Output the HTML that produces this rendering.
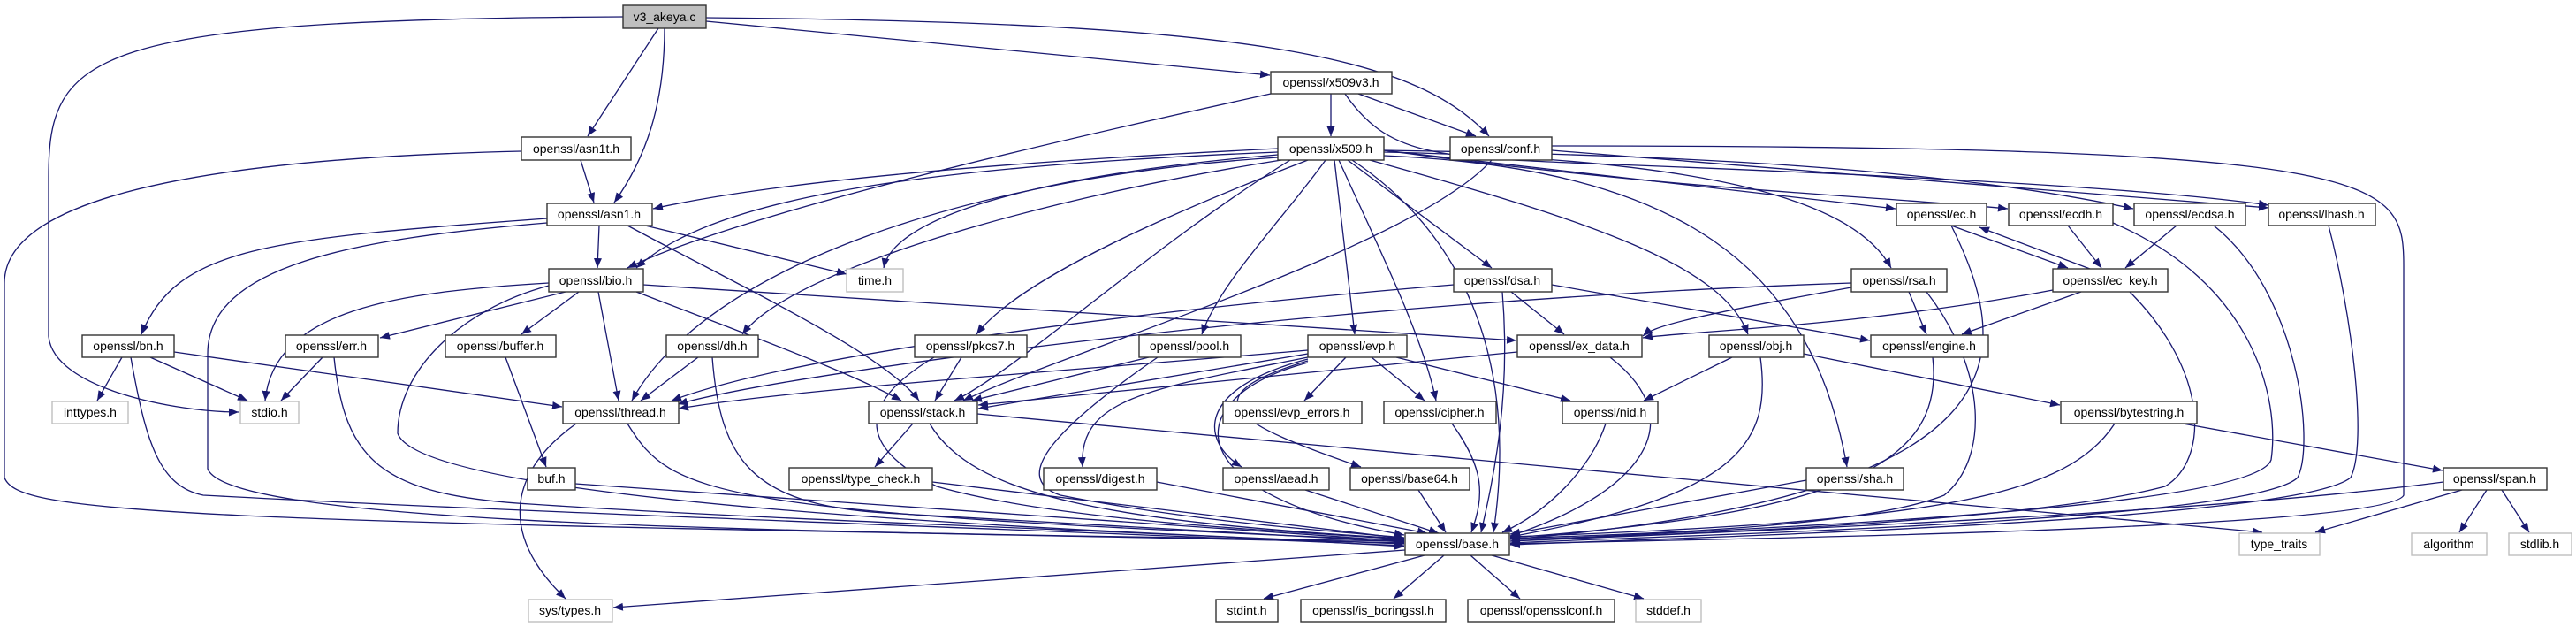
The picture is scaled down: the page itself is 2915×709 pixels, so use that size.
<!DOCTYPE html>
<html><head><meta charset="utf-8"><style>
html,body{margin:0;padding:0;background:#fff;}
svg{display:block;}
text{font-family:"Liberation Sans","DejaVu Sans",sans-serif;font-size:14px;fill:#000;}
.e{fill:none;stroke:#191970;stroke-width:1.3;marker-end:url(#a);}
.n{fill:#fff;stroke:#333;stroke-width:1.4;}
.g{fill:#fff;stroke:#bfbfbf;stroke-width:1.4;}
</style></head><body>
<svg width="2915" height="709" viewBox="0 0 2915 709" xmlns="http://www.w3.org/2000/svg">
<defs><marker id="a" markerUnits="userSpaceOnUse" markerWidth="12" markerHeight="9" refX="11" refY="4.5" orient="auto"><path d="M0,0 L11,4.5 L0,9 z" fill="#191970"/></marker></defs>
<g>
<path class="e" d="M705 19 C100 22,55 60,55 200 L55 380 C60 440,200 466,270 466"/>
<path class="e" d="M745 32 L665 154"/>
<path class="e" d="M752 32 C752 120,730 180,695 229"/>
<path class="e" d="M799 24 L1437 85"/>
<path class="e" d="M799 20 C1400 25,1600 60,1685 154"/>
<path class="e" d="M1438 106 C1100 180,820 250,710 303"/>
<path class="e" d="M1506 106 L1506 154"/>
<path class="e" d="M1537 106 L1670 154"/>
<path class="e" d="M1522 106 C1570 175,1620 178,1800 185 C2200 200,2450 215,2567 232"/>
<path class="e" d="M657 181 L672 229"/>
<path class="e" d="M590 171 C200 180,5 230,5 320 L5 540 C20 580,170 590,1589 612"/>
<path class="e" d="M678 255 L676 303"/>
<path class="e" d="M619 247 C300 270,200 280,160 378"/>
<path class="e" d="M619 252 C400 270,235 300,235 400 L235 530 C260 600,1000 600,1589 614"/>
<path class="e" d="M730 255 L958 310"/>
<path class="e" d="M710 255 C850 330,1000 400,1040 453"/>
<path class="e" d="M1688 181 C1600 280,1200 400,1090 453"/>
<path class="e" d="M1756 170 L2567 235"/>
<path class="e" d="M1756 165 C2700 165,2720 200,2720 300 L2720 560 C2700 600,1900 610,1709 615"/>
<path class="e" d="M1446 168 C1200 180,900 200,739 236"/>
<path class="e" d="M1446 172 C1000 190,800 230,720 303"/>
<path class="e" d="M1446 175 C1150 200,1010 250,1000 303"/>
<path class="e" d="M1446 178 C1100 200,800 300,715 453"/>
<path class="e" d="M1450 181 C1200 220,900 300,840 378"/>
<path class="e" d="M1480 181 C1300 250,1150 320,1105 378"/>
<path class="e" d="M1500 181 C1450 250,1380 320,1360 378"/>
<path class="e" d="M1460 181 C1300 280,1150 420,1080 453"/>
<path class="e" d="M1510 181 L1533 378"/>
<path class="e" d="M1515 181 C1560 280,1610 380,1625 453"/>
<path class="e" d="M1525 181 L1688 303"/>
<path class="e" d="M1530 181 C1650 260,1720 400,1690 602"/>
<path class="e" d="M1550 181 C1800 250,1950 300,1978 378"/>
<path class="e" d="M1566 176 C1900 190,2050 300,2090 528"/>
<path class="e" d="M1566 172 C1950 180,2100 230,2140 303"/>
<path class="e" d="M1566 170 L2145 236"/>
<path class="e" d="M1566 170 C1900 215,2100 220,2272 236"/>
<path class="e" d="M1566 170 C1900 175,2200 190,2414 236"/>
<path class="e" d="M2208 255 L2340 303"/>
<path class="e" d="M2365 304 L2240 257"/>
<path class="e" d="M2208 255 C2280 400,2300 560,1709 610"/>
<path class="e" d="M2340 255 L2378 303"/>
<path class="e" d="M2391 252 C2550 320,2580 450,2570 520 C2550 580,1900 600,1709 612"/>
<path class="e" d="M2463 255 L2405 303"/>
<path class="e" d="M2505 255 C2600 330,2620 500,2600 540 C2550 590,1900 605,1709 614"/>
<path class="e" d="M2635 255 C2660 350,2680 500,2660 540 C2600 590,1900 608,1709 616"/>
<path class="e" d="M640 330 L430 382"/>
<path class="e" d="M655 330 L590 378"/>
<path class="e" d="M677 330 L700 453"/>
<path class="e" d="M621 320 C450 330,310 350,300 453"/>
<path class="e" d="M720 330 C850 380,960 420,1020 453"/>
<path class="e" d="M728 322 L1716 385"/>
<path class="e" d="M621 323 C520 350,450 420,450 490 C470 550,900 590,1589 615"/>
<path class="e" d="M138 404 L110 453"/>
<path class="e" d="M170 404 L280 453"/>
<path class="e" d="M197 398 L636 460"/>
<path class="e" d="M148 404 C165 500,180 550,230 560 C600 580,1200 600,1589 617"/>
<path class="e" d="M365 404 L318 453"/>
<path class="e" d="M378 404 C390 520,430 560,600 570 C900 590,1300 600,1589 618"/>
<path class="e" d="M572 404 L618 528"/>
<path class="e" d="M651 547 L1589 612"/>
<path class="e" d="M790 404 L725 453"/>
<path class="e" d="M806 404 C815 520,850 570,1000 580 L1589 613"/>
<path class="e" d="M1710 330 L1770 378"/>
<path class="e" d="M1756 322 L2116 385"/>
<path class="e" d="M1645 322 C1300 350,900 400,760 453"/>
<path class="e" d="M1700 330 C1710 450,1690 540,1676 602"/>
<path class="e" d="M2095 325 C1900 360,1870 370,1859 380"/>
<path class="e" d="M2160 330 L2180 378"/>
<path class="e" d="M2095 320 C1500 340,900 420,767 457"/>
<path class="e" d="M2180 330 C2250 420,2250 520,2200 560 C2100 600,1800 605,1709 609"/>
<path class="e" d="M2323 328 C2100 370,1900 375,1859 382"/>
<path class="e" d="M2355 330 L2220 378"/>
<path class="e" d="M2410 330 C2500 420,2500 520,2450 550 C2300 590,1900 605,1709 610"/>
<path class="e" d="M1088 404 L1058 453"/>
<path class="e" d="M1057 404 C980 450,960 500,1060 550 C1200 590,1450 600,1589 610"/>
<path class="e" d="M1300 404 L1100 453"/>
<path class="e" d="M1310 404 C1200 480,1140 540,1200 560 C1350 590,1500 600,1589 608"/>
<path class="e" d="M1480 396 C1200 420,900 440,768 462"/>
<path class="e" d="M1480 400 L1107 462"/>
<path class="e" d="M1523 404 L1476 453"/>
<path class="e" d="M1552 404 L1612 453"/>
<path class="e" d="M1580 404 L1777 453"/>
<path class="e" d="M1480 404 C1300 440,1220 450,1225 528"/>
<path class="e" d="M1480 406 C1350 440,1360 500,1405 528"/>
<path class="e" d="M1480 408 C1340 450,1400 480,1540 528"/>
<path class="e" d="M1480 410 C1330 450,1330 560,1589 605"/>
<path class="e" d="M1717 398 L1107 458"/>
<path class="e" d="M1822 404 C1920 480,1850 560,1709 606"/>
<path class="e" d="M1960 404 L1860 453"/>
<path class="e" d="M2041 400 L2331 458"/>
<path class="e" d="M1992 404 C2005 500,1970 560,1709 607"/>
<path class="e" d="M2187 404 C2200 520,2100 580,1709 608"/>
<path class="e" d="M652 479 C580 530,560 600,640 677"/>
<path class="e" d="M710 479 C760 560,800 580,1589 611"/>
<path class="e" d="M1033 479 L990 528"/>
<path class="e" d="M1052 479 C1100 560,1250 590,1589 609"/>
<path class="e" d="M1106 468 L2560 602"/>
<path class="e" d="M1055 545 L1589 609"/>
<path class="e" d="M1643 479 C1680 530,1680 560,1665 602"/>
<path class="e" d="M1817 479 C1800 530,1750 580,1700 602"/>
<path class="e" d="M1309 545 L1615 603"/>
<path class="e" d="M1477 554 L1628 603"/>
<path class="e" d="M1605 554 L1636 602"/>
<path class="e" d="M2044 543 L1709 604"/>
<path class="e" d="M2393 479 C2340 560,2200 590,1709 607"/>
<path class="e" d="M2470 479 L2764 532"/>
<path class="e" d="M2765 545 C2500 580,2000 600,1709 612"/>
<path class="e" d="M2786 554 L2620 602"/>
<path class="e" d="M2814 554 L2783 602"/>
<path class="e" d="M2831 554 L2862 602"/>
<path class="e" d="M1590 622 L694 687"/>
<path class="e" d="M1612 628 L1430 677"/>
<path class="e" d="M1634 628 L1577 677"/>
<path class="e" d="M1664 628 L1720 677"/>
<path class="e" d="M1688 628 L1860 677"/>
</g>
<g>
<rect x="705" y="6" width="94" height="26" fill="#bfbfbf" stroke="#333" stroke-width="1.4"/><text x="752" y="24" text-anchor="middle">v3_akeya.c</text>
<rect class="n" x="1438" y="81" width="137" height="25"/><text x="1506" y="98" text-anchor="middle">openssl/x509v3.h</text>
<rect class="n" x="590" y="155" width="124" height="26"/><text x="652" y="173" text-anchor="middle">openssl/asn1t.h</text>
<rect class="n" x="1446" y="155" width="120" height="26"/><text x="1506" y="173" text-anchor="middle">openssl/x509.h</text>
<rect class="n" x="1641" y="155" width="115" height="26"/><text x="1698" y="173" text-anchor="middle">openssl/conf.h</text>
<rect class="n" x="619" y="230" width="119" height="25"/><text x="678" y="247" text-anchor="middle">openssl/asn1.h</text>
<rect class="n" x="2146" y="230" width="102" height="25"/><text x="2197" y="247" text-anchor="middle">openssl/ec.h</text>
<rect class="n" x="2273" y="230" width="118" height="25"/><text x="2332" y="247" text-anchor="middle">openssl/ecdh.h</text>
<rect class="n" x="2415" y="230" width="126" height="25"/><text x="2478" y="247" text-anchor="middle">openssl/ecdsa.h</text>
<rect class="n" x="2567" y="230" width="121" height="25"/><text x="2627" y="247" text-anchor="middle">openssl/lhash.h</text>
<rect class="n" x="621" y="304" width="107" height="26"/><text x="674" y="322" text-anchor="middle">openssl/bio.h</text>
<rect class="g" x="958" y="304" width="64" height="26"/><text x="990" y="322" text-anchor="middle">time.h</text>
<rect class="n" x="1645" y="304" width="111" height="26"/><text x="1700" y="322" text-anchor="middle">openssl/dsa.h</text>
<rect class="n" x="2095" y="304" width="108" height="26"/><text x="2149" y="322" text-anchor="middle">openssl/rsa.h</text>
<rect class="n" x="2323" y="304" width="130" height="26"/><text x="2388" y="322" text-anchor="middle">openssl/ec_key.h</text>
<rect class="n" x="93" y="379" width="104" height="25"/><text x="145" y="396" text-anchor="middle">openssl/bn.h</text>
<rect class="n" x="323" y="379" width="105" height="25"/><text x="375" y="396" text-anchor="middle">openssl/err.h</text>
<rect class="n" x="504" y="379" width="125" height="25"/><text x="566" y="396" text-anchor="middle">openssl/buffer.h</text>
<rect class="n" x="754" y="379" width="104" height="25"/><text x="806" y="396" text-anchor="middle">openssl/dh.h</text>
<rect class="n" x="1035" y="379" width="127" height="25"/><text x="1098" y="396" text-anchor="middle">openssl/pkcs7.h</text>
<rect class="n" x="1289" y="379" width="115" height="25"/><text x="1346" y="396" text-anchor="middle">openssl/pool.h</text>
<rect class="n" x="1480" y="379" width="112" height="25"/><text x="1536" y="396" text-anchor="middle">openssl/evp.h</text>
<rect class="n" x="1717" y="379" width="141" height="25"/><text x="1787" y="396" text-anchor="middle">openssl/ex_data.h</text>
<rect class="n" x="1934" y="379" width="107" height="25"/><text x="1987" y="396" text-anchor="middle">openssl/obj.h</text>
<rect class="n" x="2117" y="379" width="133" height="25"/><text x="2183" y="396" text-anchor="middle">openssl/engine.h</text>
<rect class="g" x="59" y="454" width="86" height="25"/><text x="102" y="471" text-anchor="middle">inttypes.h</text>
<rect class="g" x="272" y="454" width="66" height="25"/><text x="305" y="471" text-anchor="middle">stdio.h</text>
<rect class="n" x="637" y="454" width="131" height="25"/><text x="702" y="471" text-anchor="middle">openssl/thread.h</text>
<rect class="n" x="983" y="454" width="123" height="25"/><text x="1044" y="471" text-anchor="middle">openssl/stack.h</text>
<rect class="n" x="1384" y="454" width="157" height="25"/><text x="1462" y="471" text-anchor="middle">openssl/evp_errors.h</text>
<rect class="n" x="1566" y="454" width="127" height="25"/><text x="1629" y="471" text-anchor="middle">openssl/cipher.h</text>
<rect class="n" x="1768" y="454" width="108" height="25"/><text x="1822" y="471" text-anchor="middle">openssl/nid.h</text>
<rect class="n" x="2332" y="454" width="154" height="25"/><text x="2409" y="471" text-anchor="middle">openssl/bytestring.h</text>
<rect class="n" x="597" y="529" width="54" height="25"/><text x="624" y="546" text-anchor="middle">buf.h</text>
<rect class="n" x="893" y="529" width="162" height="25"/><text x="974" y="546" text-anchor="middle">openssl/type_check.h</text>
<rect class="n" x="1181" y="529" width="128" height="25"/><text x="1245" y="546" text-anchor="middle">openssl/digest.h</text>
<rect class="n" x="1384" y="529" width="120" height="25"/><text x="1444" y="546" text-anchor="middle">openssl/aead.h</text>
<rect class="n" x="1528" y="529" width="135" height="25"/><text x="1595" y="546" text-anchor="middle">openssl/base64.h</text>
<rect class="n" x="2044" y="529" width="110" height="25"/><text x="2099" y="546" text-anchor="middle">openssl/sha.h</text>
<rect class="n" x="2765" y="529" width="117" height="25"/><text x="2823" y="546" text-anchor="middle">openssl/span.h</text>
<rect class="n" x="1590" y="603" width="118" height="25"/><text x="1649" y="620" text-anchor="middle">openssl/base.h</text>
<rect class="g" x="2534" y="603" width="91" height="25"/><text x="2579" y="620" text-anchor="middle">type_traits</text>
<rect class="g" x="2729" y="603" width="85" height="25"/><text x="2771" y="620" text-anchor="middle">algorithm</text>
<rect class="g" x="2839" y="603" width="71" height="25"/><text x="2874" y="620" text-anchor="middle">stdlib.h</text>
<rect class="g" x="598" y="678" width="95" height="25"/><text x="645" y="695" text-anchor="middle">sys/types.h</text>
<rect class="n" x="1376" y="678" width="70" height="25"/><text x="1411" y="695" text-anchor="middle">stdint.h</text>
<rect class="n" x="1472" y="678" width="164" height="25"/><text x="1554" y="695" text-anchor="middle">openssl/is_boringssl.h</text>
<rect class="n" x="1661" y="678" width="166" height="25"/><text x="1744" y="695" text-anchor="middle">openssl/opensslconf.h</text>
<rect class="g" x="1851" y="678" width="74" height="25"/><text x="1888" y="695" text-anchor="middle">stddef.h</text>
</g>
</svg>
</body></html>
